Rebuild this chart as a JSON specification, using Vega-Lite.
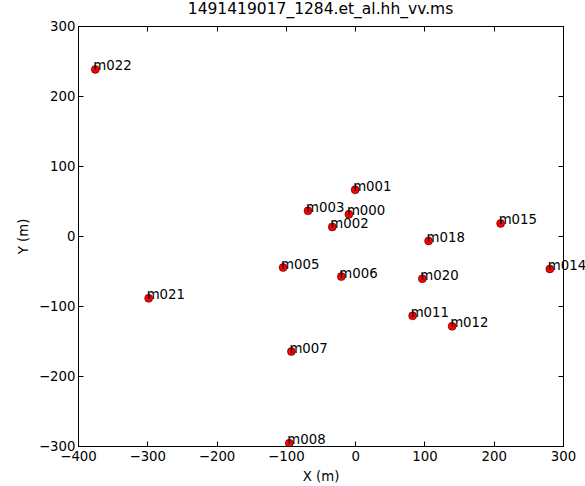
{
  "$schema": "https://vega.github.io/schema/vega-lite/v6.json",
  "width": 485,
  "height": 420,
  "autosize": {"type": "none"},
  "padding": {"left": 78, "top": 26, "right": 22, "bottom": 40},
  "title": {"text": "1491419017_1284.et_al.hh_vv.ms", "font": "DejaVu Sans", "fontSize": 15.5, "fontWeight": "normal", "color": "black", "offset": 2},
  "config": {
    "view": {"stroke": "black", "strokeWidth": 1},
    "axis": {
      "domainColor": "black",
      "tickColor": "black",
      "tickSize": -5,
      "grid": false,
      "labelFlush": false,
      "labelOverlap": false,
      "labelFont": "DejaVu Sans",
      "labelFontSize": 13.3,
      "labelColor": "black",
      "titleFont": "DejaVu Sans",
      "titleFontSize": 13.3,
      "titleFontWeight": "normal",
      "titleColor": "black"
    }
  },
  "data": {
    "values": [
      {"name": "m000", "x": -9, "y": 31},
      {"name": "m001", "x": 0, "y": 66},
      {"name": "m002", "x": -33, "y": 13},
      {"name": "m003", "x": -68, "y": 36},
      {"name": "m005", "x": -104, "y": -45},
      {"name": "m006", "x": -20, "y": -58},
      {"name": "m007", "x": -92, "y": -165},
      {"name": "m008", "x": -95, "y": -296},
      {"name": "m011", "x": 83, "y": -114},
      {"name": "m012", "x": 140, "y": -129},
      {"name": "m014", "x": 281, "y": -47},
      {"name": "m015", "x": 210, "y": 18},
      {"name": "m018", "x": 106, "y": -7},
      {"name": "m020", "x": 97, "y": -61},
      {"name": "m021", "x": -298, "y": -89},
      {"name": "m022", "x": -375, "y": 238}
    ]
  },
  "layer": [
    {
      "mark": {"type": "circle", "fill": "red", "stroke": "black", "strokeWidth": 0.5, "size": 64, "opacity": 1, "clip": true},
      "encoding": {
        "x": {"field": "x", "type": "quantitative", "scale": {"domain": [-400, 300], "nice": false, "zero": false},
              "axis": {"orient": "bottom", "values": [-400, -300, -200, -100, 0, 100, 200, 300], "title": "X (m)", "labelPadding": 8, "titlePadding": 7}},
        "y": {"field": "y", "type": "quantitative", "scale": {"domain": [-300, 300], "nice": false, "zero": false},
              "axis": {"orient": "left", "values": [-300, -200, -100, 0, 100, 200, 300], "title": "Y (m)", "labelPadding": 8, "titlePadding": 8}}
      }
    },
    {
      "mark": {"type": "text", "align": "left", "baseline": "alphabetic", "font": "DejaVu Sans", "fontSize": 13.3, "color": "black", "dx": -2, "dy": 1},
      "encoding": {
        "x": {"field": "x", "type": "quantitative", "title": "", "scale": {"domain": [-400, 300], "nice": false, "zero": false},
              "axis": {"orient": "top", "values": [-400, -300, -200, -100, 0, 100, 200, 300], "labels": false, "title": null}},
        "y": {"field": "y", "type": "quantitative", "title": "", "scale": {"domain": [-300, 300], "nice": false, "zero": false},
              "axis": {"orient": "right", "values": [-300, -200, -100, 0, 100, 200, 300], "labels": false, "title": null}},
        "text": {"field": "name"}
      }
    }
  ],
  "resolve": {"axis": {"x": "independent", "y": "independent"}}
}
